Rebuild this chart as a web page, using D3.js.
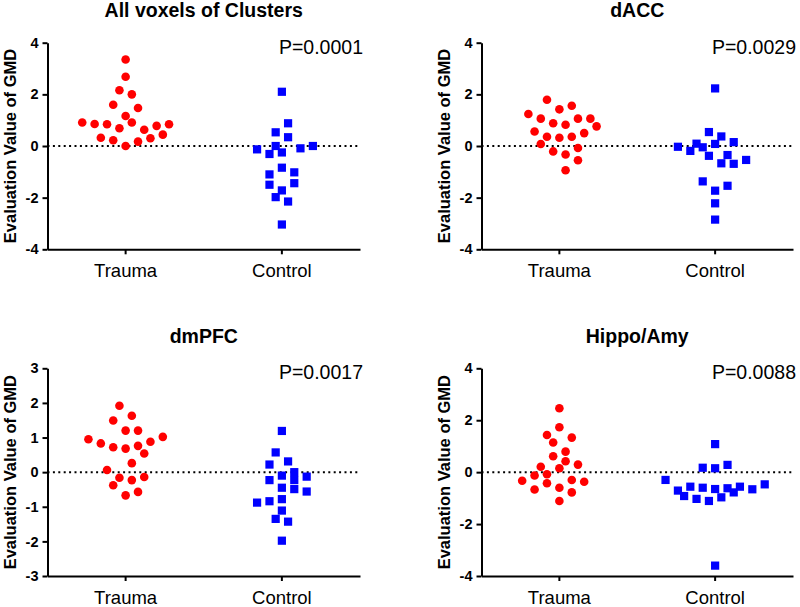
<!DOCTYPE html>
<html>
<head>
<meta charset="utf-8">
<script src="https://cdn.jsdelivr.net/npm/d3@7"></script>
<style>
  html, body { margin: 0; padding: 0; background: #fff; }
  svg { display: block; }
  text { font-family: "Liberation Sans", Arial, sans-serif; fill: #000; }
</style>
</head>
<body>
<svg id="chart" width="800" height="607"></svg>
<script>
// ---------- data ----------
const categories = ["Trauma", "Control"];
const panelTitles = ["All voxels of Clusters", "dACC", "dmPFC", "Hippo/Amy"];
const pLabels = ["P=0.0001", "P=0.0029", "P=0.0017", "P=0.0088"];
const yLabel = "Evaluation Value of GMD";
const ticksWide = [-4, -2, 0, 2, 4];
const ticksNarrow = [-3, -2, -1, 0, 1, 2, 3];

// values per subject (listed in the order they appear left to right in the original)
const allTrauma = [0.91, 0.85, 0.32, 0.84, 0.22, 1.6, 2.16, 0.69, 0.0, 3.35, 2.68, 1.16, 2.0, 0.91, 0.17, 1.47, 0.63, 0.30, 0.78, 0.44, 0.84];
const allControl = [0.0, -0.13, -1.10, -1.98, 0.53, -0.31, -0.84, 2.1, 0.88, -1.50, -2.15, -3.04, 0.34, -0.25, -1.02, -1.72, -0.09, -1.44, 0.0];

const daccTrauma = [0.56, 1.24, 0.36, 1.06, 0.08, 1.79, 0.88, 0.32, -0.21, -0.94, 1.42, 0.36, -0.55, 1.56, 0.82, -0.33, 0.50, 1.06, -0.08, 0.76, 1.06];
const daccControl = [0.09, -0.38, -0.03, -0.67, -1.37, 0.54, -0.19, 2.23, -0.69, -1.73, -2.22, -2.85, -0.05, 0.37, -0.54, -1.54, 0.08, -0.35, 0.15];

const dmpfcTrauma = [0.95, 0.83, 0.06, 1.49, 0.72, -0.38, 1.92, 0.26, -0.16, 1.20, 0.68, -0.67, 1.63, 0.54, -0.23, 1.20, 0.76, -0.57, -0.14, 0.88, 1.02];
const dmpfcControl = [-0.23, -0.78, 0.22, -0.45, -1.35, 0.57, -0.88, 1.19, -0.10, -0.49, -1.43, -1.98, 0.31, -0.84, -0.23, -1.11, 0.0, -0.56, -0.13];

const hippoTrauma = [-0.13, 0.21, -0.33, 1.43, 0.61, -0.08, -0.67, -0.43, 2.46, 1.73, 1.14, 0.42, -1.11, 0.15, -0.60, 1.33, 0.79, -0.78, 0.29, -0.37, -0.30];
const hippoControl = [-0.30, -0.71, -0.56, -0.92, -0.60, 0.17, -1.03, 1.08, 0.15, -0.65, -1.11, -3.60, 0.28, -0.97, -0.62, -0.78, -0.56, -0.66, -0.47];

const yDomains = [[-4, 4], [-4, 4], [-3, 3], [-4, 4]];
const yTickSets = [ticksWide, ticksWide, ticksNarrow, ticksWide];
const groups = [
  [allTrauma, allControl],
  [daccTrauma, daccControl],
  [dmpfcTrauma, dmpfcControl],
  [hippoTrauma, hippoControl]
];

// ---------- layout ----------
const frames = [
  { x0: 47.5, x1: 360, y0: 42.7, y1: 249.3 },
  { x0: 481.5, x1: 793, y0: 42.7, y1: 249.3 },
  { x0: 47.5, x1: 360, y0: 368.3, y1: 576 },
  { x0: 481.5, x1: 793, y0: 368.3, y1: 576 }
];
const colors = ["#ff0000", "#0000ff"];
const R = 4.3;          // circle radius
const SQ = 8.2;         // square side
const STEP = 6.2;       // swarm slot width
const ROW_T = 11.8;     // max vertical span (px) of one row
const MIND = 8.6;       // min distance between marker centres

// row-based scatter layout (like column scatter plots): returns x offsets in px
function swarm(values, y) {
  const items = values.map((v, i) => ({ v, i, y: y(v), dx: 0 }));
  const sorted = items.slice().sort((a, b) => (b.v - a.v) || (a.i - b.i));
  const rows = [];
  let cur = null;
  for (const p of sorted) {
    if (cur && p.y - cur[0].y < ROW_T) cur.push(p);
    else { cur = [p]; rows.push(cur); }
  }
  const placed = [];
  for (const row of rows) {
    row.sort((a, b) => a.i - b.i);
    const n = row.length;
    const base = row.map((p, k) => (2 * k - (n - 1)));
    const shifts = [0, 1, -1, 2, -2];
    let best = 0, bestCost = Infinity;
    for (const s of shifts) {
      let cost = 0;
      row.forEach((p, k) => {
        const dx = (base[k] + s) * STEP;
        for (const q of placed) {
          const d = Math.hypot(q.dx - dx, q.y - p.y);
          if (d < MIND) cost += MIND - d;
        }
      });
      if (cost < bestCost - 1e-9) { bestCost = cost; best = s; }
      if (cost === 0) break;
    }
    row.forEach((p, k) => { p.dx = (base[k] + best) * STEP; placed.push(p); });
  }
  return items;
}

const svg = d3.select("#chart");

frames.forEach((f, pi) => {
  const g = svg.append("g");
  const x = d3.scaleBand().domain(categories).range([f.x0, f.x1]).paddingInner(0).paddingOuter(0);
  const y = d3.scaleLinear().domain(yDomains[pi]).range([f.y1, f.y0]);

  // zero reference line (dotted)
  g.append("line")
    .attr("x1", f.x0).attr("x2", f.x1)
    .attr("y1", y(0)).attr("y2", y(0))
    .attr("stroke", "#000").attr("stroke-width", 2)
    .attr("stroke-dasharray", "2,3.4");

  // points
  categories.forEach((c, ci) => {
    const cx = x(c) + x.bandwidth() / 2;
    const pts = swarm(groups[pi][ci], y);
    if (ci === 0) {
      g.append("g").selectAll("circle").data(pts).join("circle")
        .attr("cx", d => cx + d.dx).attr("cy", d => d.y).attr("r", R)
        .attr("fill", colors[0]);
    } else {
      g.append("g").selectAll("rect").data(pts).join("rect")
        .attr("x", d => cx + d.dx - SQ / 2).attr("y", d => d.y - SQ / 2)
        .attr("width", SQ).attr("height", SQ)
        .attr("fill", colors[1]);
    }
  });

  // y axis
  const ya = g.append("g").attr("transform", `translate(${f.x0},0)`)
    .call(d3.axisLeft(y).tickValues(yTickSets[pi]).tickSize(5).tickSizeOuter(0).tickPadding(4)
      .tickFormat(d => String(d)));
  ya.select(".domain").attr("stroke", "#000").attr("stroke-width", 2);
  ya.selectAll(".tick line").attr("stroke", "#000").attr("stroke-width", 2);
  ya.selectAll(".tick text").style("font-family", "'Liberation Sans', Arial, sans-serif")
    .style("font-size", "14.5px").style("font-weight", "bold").attr("fill", "#000");

  // x axis
  const xa = g.append("g").attr("transform", `translate(0,${f.y1})`)
    .call(d3.axisBottom(x).tickSize(5).tickSizeOuter(0).tickPadding(10));
  xa.select(".domain").attr("stroke", "#000").attr("stroke-width", 2);
  xa.selectAll(".tick line").attr("stroke", "#000").attr("stroke-width", 2);
  xa.selectAll(".tick text").style("font-family", "'Liberation Sans', Arial, sans-serif")
    .style("font-size", "18.5px").attr("fill", "#000");

  // title
  g.append("text")
    .attr("x", (f.x0 + f.x1) / 2).attr("y", f.y0 - 25.5)
    .attr("text-anchor", "middle")
    .style("font-size", "19.5px").style("font-weight", "bold")
    .text(panelTitles[pi]);

  // p value
  g.append("text")
    .attr("x", f.x1 + 3).attr("y", f.y0 + 11)
    .attr("text-anchor", "end")
    .style("font-size", "19.5px")
    .text(pLabels[pi]);

  // y label
  g.append("text")
    .attr("transform", `translate(${f.x0 - 32},${(f.y0 + f.y1) / 2}) rotate(-90)`)
    .attr("text-anchor", "middle")
    .style("font-size", "16.5px").style("font-weight", "bold")
    .text(yLabel);
});
</script>
</body>
</html>
